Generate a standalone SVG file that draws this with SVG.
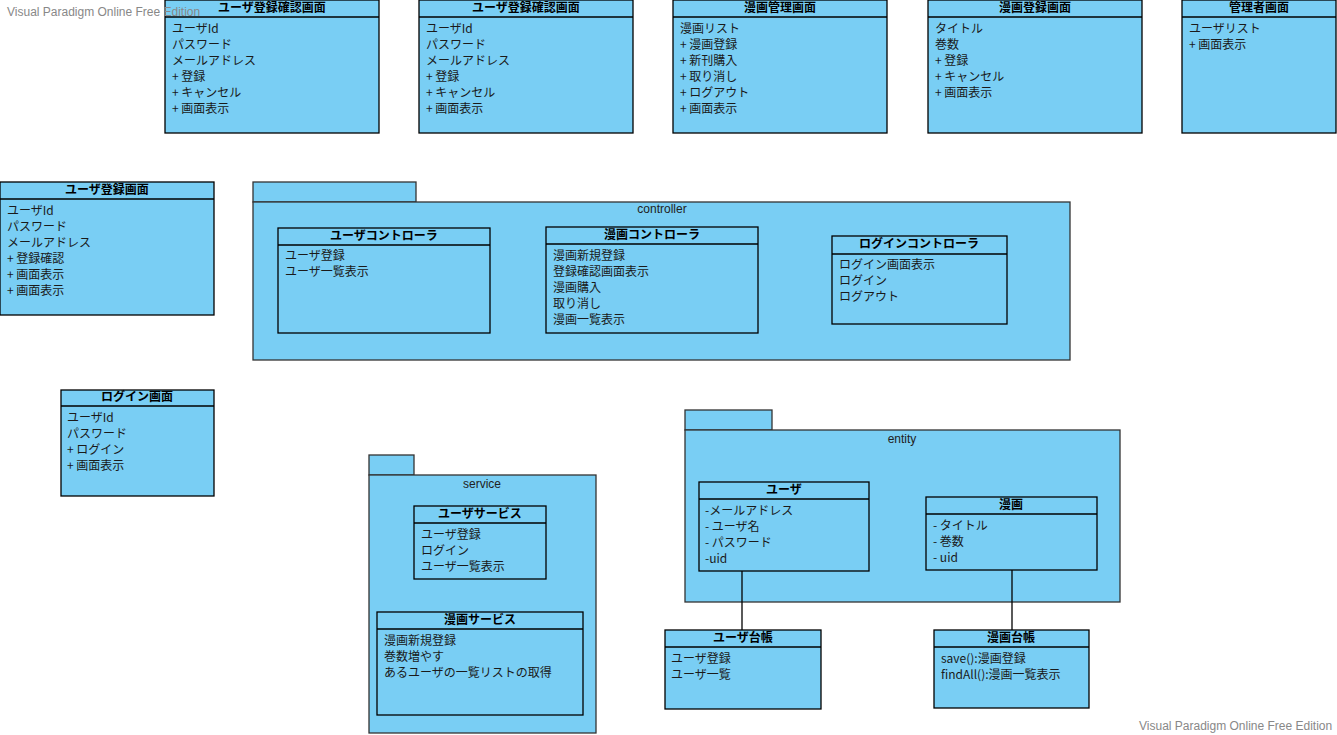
<svg xmlns="http://www.w3.org/2000/svg" width="1337" height="735" viewBox="0 0 1337 735">
<style>
.box{fill:#79CEF4;stroke:#000;stroke-width:1.3}
.pkg{fill:#79CEF4;stroke:#333;stroke-width:1.3}
.t{font-family:"Noto Sans CJK JP","Liberation Sans",sans-serif;font-size:12px;fill:#1a1a1a}
.h{font-family:"Noto Sans CJK JP","Liberation Sans",sans-serif;font-size:12px;font-weight:bold;fill:#000;text-anchor:middle}
.p{font-family:"Liberation Sans",sans-serif;font-size:12px;fill:#222;text-anchor:middle}
.wm{font-family:"Liberation Sans",sans-serif;font-size:12px;fill:#888}
.ln{stroke:#000;stroke-width:1.3;fill:none}
.a{transform:translate(0,1px)}
</style>
<rect width="1337" height="735" fill="#fff"/>

<g id="pkg-controller">
<rect class="pkg" x="253" y="182" width="163" height="20"/>
<rect class="pkg" x="253" y="202" width="817" height="158"/>
<text class="p" x="662" y="213">controller</text>
</g>
<g id="pkg-service">
<rect class="pkg" x="369" y="455" width="45" height="20"/>
<rect class="pkg" x="369" y="475" width="227" height="258"/>
<text class="p" x="482" y="488">service</text>
</g>
<g id="pkg-entity">
<rect class="pkg" x="685" y="410" width="87" height="20"/>
<rect class="pkg" x="685" y="430" width="435" height="172"/>
<text class="p" x="902" y="443">entity</text>
</g>

<g id="connectors">
<line class="ln" x1="742" y1="571" x2="742" y2="630"/>
<line class="ln" x1="1012" y1="570" x2="1012" y2="630"/>
</g>

<g id="n1">
<rect class="box" x="165" y="0" width="214" height="133"/>
<line class="ln" x1="165" y1="17" x2="379" y2="17"/>
<text class="h" x="272" y="12">ユーザ登録確認画面</text>
<g class="a">
<text class="t" x="172" y="32">ユーザId</text>
<text class="t" x="172" y="48">パスワード</text>
<text class="t" x="172" y="64">メールアドレス</text>
<text class="t" x="172" y="80">+ 登録</text>
<text class="t" x="172" y="96">+ キャンセル</text>
<text class="t" x="172" y="112">+ 画面表示</text>
</g>
</g>
<g id="n2">
<rect class="box" x="419" y="0" width="214" height="133"/>
<line class="ln" x1="419" y1="17" x2="633" y2="17"/>
<text class="h" x="526" y="12">ユーザ登録確認画面</text>
<g class="a">
<text class="t" x="426" y="32">ユーザId</text>
<text class="t" x="426" y="48">パスワード</text>
<text class="t" x="426" y="64">メールアドレス</text>
<text class="t" x="426" y="80">+ 登録</text>
<text class="t" x="426" y="96">+ キャンセル</text>
<text class="t" x="426" y="112">+ 画面表示</text>
</g>
</g>
<g id="n3">
<rect class="box" x="673" y="0" width="214" height="133"/>
<line class="ln" x1="673" y1="17" x2="887" y2="17"/>
<text class="h" x="780" y="12">漫画管理画面</text>
<g class="a">
<text class="t" x="680" y="32">漫画リスト</text>
<text class="t" x="680" y="48">+ 漫画登録</text>
<text class="t" x="680" y="64">+ 新刊購入</text>
<text class="t" x="680" y="80">+ 取り消し</text>
<text class="t" x="680" y="96">+ ログアウト</text>
<text class="t" x="680" y="112">+ 画面表示</text>
</g>
</g>
<g id="n4">
<rect class="box" x="928" y="0" width="214" height="133"/>
<line class="ln" x1="928" y1="17" x2="1142" y2="17"/>
<text class="h" x="1035" y="12">漫画登録画面</text>
<g class="a">
<text class="t" x="935" y="32">タイトル</text>
<text class="t" x="935" y="48">巻数</text>
<text class="t" x="935" y="64">+ 登録</text>
<text class="t" x="935" y="80">+ キャンセル</text>
<text class="t" x="935" y="96">+ 画面表示</text>
</g>
</g>
<g id="n5">
<rect class="box" x="1182" y="0" width="154" height="133"/>
<line class="ln" x1="1182" y1="17" x2="1336" y2="17"/>
<text class="h" x="1259" y="12">管理者画面</text>
<g class="a">
<text class="t" x="1189" y="32">ユーザリスト</text>
<text class="t" x="1189" y="48">+ 画面表示</text>
</g>
</g>
<g id="n6">
<rect class="box" x="0" y="182" width="214" height="133"/>
<line class="ln" x1="0" y1="199" x2="214" y2="199"/>
<text class="h" x="107" y="194">ユーザ登録画面</text>
<g class="a">
<text class="t" x="7" y="214">ユーザId</text>
<text class="t" x="7" y="230">パスワード</text>
<text class="t" x="7" y="246">メールアドレス</text>
<text class="t" x="7" y="262">+ 登録確認</text>
<text class="t" x="7" y="278">+ 画面表示</text>
<text class="t" x="7" y="294">+ 画面表示</text>
</g>
</g>
<g id="n7">
<rect class="box" x="61" y="390" width="153" height="106"/>
<line class="ln" x1="61" y1="406" x2="214" y2="406"/>
<text class="h" x="137" y="401">ログイン画面</text>
<g class="a">
<text class="t" x="67" y="421">ユーザId</text>
<text class="t" x="67" y="437">パスワード</text>
<text class="t" x="67" y="453">+ ログイン</text>
<text class="t" x="67" y="469">+ 画面表示</text>
</g>
</g>
<g id="n8">
<rect class="box" x="278" y="228" width="212" height="105"/>
<line class="ln" x1="278" y1="245" x2="490" y2="245"/>
<text class="h" x="384" y="240">ユーザコントローラ</text>
<g class="a">
<text class="t" x="285" y="259">ユーザ登録</text>
<text class="t" x="285" y="275">ユーザ一覧表示</text>
</g>
</g>
<g id="n9">
<rect class="box" x="546" y="227" width="212" height="106"/>
<line class="ln" x1="546" y1="244" x2="758" y2="244"/>
<text class="h" x="652" y="239">漫画コントローラ</text>
<g class="a">
<text class="t" x="553" y="259">漫画新規登録</text>
<text class="t" x="553" y="275">登録確認画面表示</text>
<text class="t" x="553" y="291">漫画購入</text>
<text class="t" x="553" y="307">取り消し</text>
<text class="t" x="553" y="323">漫画一覧表示</text>
</g>
</g>
<g id="n10">
<rect class="box" x="832" y="236" width="175" height="88"/>
<line class="ln" x1="832" y1="254" x2="1007" y2="254"/>
<text class="h" x="919" y="248">ログインコントローラ</text>
<g class="a">
<text class="t" x="839" y="268">ログイン画面表示</text>
<text class="t" x="839" y="284">ログイン</text>
<text class="t" x="839" y="300">ログアウト</text>
</g>
</g>
<g id="n11">
<rect class="box" x="414" y="506" width="132" height="73"/>
<line class="ln" x1="414" y1="523" x2="546" y2="523"/>
<text class="h" x="480" y="518">ユーザサービス</text>
<g class="a">
<text class="t" x="421" y="538">ユーザ登録</text>
<text class="t" x="421" y="554">ログイン</text>
<text class="t" x="421" y="570">ユーザ一覧表示</text>
</g>
</g>
<g id="n12">
<rect class="box" x="377" y="612" width="206" height="103"/>
<line class="ln" x1="377" y1="629" x2="583" y2="629"/>
<text class="h" x="480" y="624">漫画サービス</text>
<g class="a">
<text class="t" x="384" y="644">漫画新規登録</text>
<text class="t" x="384" y="660">巻数増やす</text>
<text class="t" x="384" y="676">あるユーザの一覧リストの取得</text>
</g>
</g>
<g id="n13">
<rect class="box" x="699" y="482" width="170" height="89"/>
<line class="ln" x1="699" y1="499" x2="869" y2="499"/>
<text class="h" x="784" y="494">ユーザ</text>
<g class="a">
<text class="t" x="705" y="514">-メールアドレス</text>
<text class="t" x="705" y="530">- ユーザ名</text>
<text class="t" x="705" y="546">- パスワード</text>
<text class="t" x="705" y="562">-uid</text>
</g>
</g>
<g id="n14">
<rect class="box" x="926" y="497" width="171" height="73"/>
<line class="ln" x1="926" y1="514" x2="1097" y2="514"/>
<text class="h" x="1011" y="509">漫画</text>
<g class="a">
<text class="t" x="933" y="529">- タイトル</text>
<text class="t" x="933" y="545">- 巻数</text>
<text class="t" x="933" y="561">- uid</text>
</g>
</g>
<g id="n15">
<rect class="box" x="665" y="630" width="156" height="79"/>
<line class="ln" x1="665" y1="647" x2="821" y2="647"/>
<text class="h" x="743" y="642">ユーザ台帳</text>
<g class="a">
<text class="t" x="671" y="662">ユーザ登録</text>
<text class="t" x="671" y="678">ユーザ一覧</text>
</g>
</g>
<g id="n16">
<rect class="box" x="934" y="630" width="155" height="78"/>
<line class="ln" x1="934" y1="647" x2="1089" y2="647"/>
<text class="h" x="1011" y="642">漫画台帳</text>
<g class="a">
<text class="t" x="941" y="662">save():漫画登録</text>
<text class="t" x="941" y="678">findAll():漫画一覧表示</text>
</g>
</g>

<text class="wm" x="7" y="16">Visual Paradigm Online Free Edition</text>
<text class="wm" x="1139" y="730">Visual Paradigm Online Free Edition</text>
</svg>
